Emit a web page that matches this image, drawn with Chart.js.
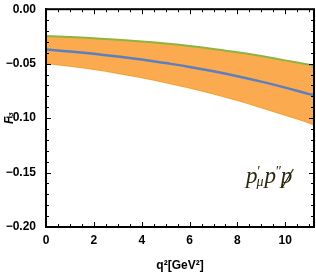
<!DOCTYPE html>
<html>
<head>
<meta charset="utf-8">
<script src="https://cdn.jsdelivr.net/npm/chart.js@4/dist/chart.umd.min.js"></script>
<style>
  html, body { margin: 0; padding: 0; background: #fff; }
  #wrap { width: 316px; height: 273px; }
</style>
</head>
<body>
<div id="wrap"><canvas id="c" width="316" height="273"></canvas></div>
<script>
// --- Data ---
const q2 = [0, 1, 2, 3, 4, 5, 6, 7, 8, 9, 10, 11, 11.2];
const upperBand = [-0.0245, -0.0255, -0.0267, -0.028, -0.0297, -0.0315, -0.0338, -0.0365, -0.0395, -0.043, -0.047, -0.051, -0.052];
const central = [-0.037, -0.0388, -0.041, -0.0435, -0.0462, -0.0495, -0.053, -0.057, -0.0615, -0.0665, -0.072, -0.078, -0.079];
const lowerBand = [-0.0495, -0.052, -0.055, -0.0585, -0.0625, -0.067, -0.072, -0.0775, -0.0835, -0.09, -0.097, -0.104, -0.106];
const xTicks = [0, 2, 4, 6, 8, 10];
const yTicks = [0, -0.05, -0.10, -0.15, -0.20];

const pts = arr => arr.map((v, i) => ({ x: q2[i], y: v }));
const fontTick = { family: 'Liberation Sans, Arial, sans-serif', size: 12, weight: 'bold' };

// inward ticks + frame, Mathematica style
const framePlugin = {
    id: 'frame',
    afterDatasetsDraw(chart) {
        const { ctx, chartArea: a, scales } = chart;
        ctx.save();
        ctx.strokeStyle = '#000';
        ctx.lineWidth = 1;
        ctx.beginPath();
        for (let v = 0; v <= 11.2 + 1e-9; v += 0.5) {
            const x = Math.round(scales.x.getPixelForValue(v)) + 0.5;
            const len = (Math.abs(v % 2) < 1e-6) ? 5 : 3;
            ctx.moveTo(x, a.bottom); ctx.lineTo(x, a.bottom - len);
            ctx.moveTo(x, a.top); ctx.lineTo(x, a.top + len);
        }
        for (let i = 0; i <= 20; i++) {
            const v = -i * 0.01;
            const y = Math.round(scales.y.getPixelForValue(v)) + 0.5;
            const len = (i % 5 === 0) ? 5 : 3;
            ctx.moveTo(a.left, y); ctx.lineTo(a.left + len, y);
            ctx.moveTo(a.right, y); ctx.lineTo(a.right - len, y);
        }
        ctx.stroke();
        ctx.lineWidth = 2;
        ctx.strokeRect(a.left, a.top, a.right - a.left, a.bottom - a.top);

        // in-plot label  p'_mu p'' pslash
        ctx.fillStyle = '#2e2612';
        ctx.textBaseline = 'alphabetic';
        const big = 'italic 23px "Liberation Serif", "DejaVu Serif", serif';
        const small = 'italic 14px "Liberation Serif", "DejaVu Serif", serif';
        let x = 246, y = 183;
        ctx.font = big; ctx.fillText('p', x, y); x += ctx.measureText('p').width;
        ctx.font = small; ctx.fillText('\u2032', x - 1, y - 7);
        ctx.fillText('\u03bc', x - 1, y + 3); x += ctx.measureText('\u03bc').width;
        ctx.font = big; ctx.fillText('p', x, y); x += ctx.measureText('p').width;
        ctx.font = small; ctx.fillText('\u2033', x - 1, y - 7); x += ctx.measureText('\u2033').width - 1;
        ctx.font = big; ctx.fillText('p', x, y);
        const w = ctx.measureText('p').width;
        ctx.lineWidth = 1.2;
        ctx.strokeStyle = '#2e2612';
        ctx.beginPath();
        ctx.moveTo(x + 1, y + 5); ctx.lineTo(x + w + 1, y - 14);
        ctx.stroke();
        ctx.restore();
    }
};

new Chart(document.getElementById('c'), {
    type: 'line',
    data: {
        datasets: [
            {
                data: pts(upperBand),
                borderColor: '#8fb43c',
                borderWidth: 2,
                backgroundColor: '#fcaa50',
                fill: '+1',
                pointRadius: 0,
                tension: 0.4,
                order: 2
            },
            {
                data: pts(lowerBand),
                borderColor: '#e9a43a',
                borderWidth: 2,
                pointRadius: 0,
                fill: false,
                tension: 0.4,
                order: 3
            },
            {
                data: pts(central),
                borderColor: '#5b80c0',
                borderWidth: 2.5,
                pointRadius: 0,
                fill: false,
                tension: 0.4,
                order: 1
            }
        ]
    },
    options: {
        responsive: false,
        animation: false,
        layout: { padding: { top: 5, right: 2, left: 0, bottom: 0 } },
        plugins: { legend: { display: false }, tooltip: { enabled: false } },
        scales: {
            x: {
                type: 'linear',
                min: 0,
                max: 11.2,
                afterBuildTicks: s => { s.ticks = xTicks.map(v => ({ value: v })); },
                afterFit: s => { s.height = 46; },
                grid: { display: false },
                border: { display: true, color: '#000', width: 2 },
                ticks: { color: '#000', font: fontTick, padding: -2, maxRotation: 0, callback: v => String(v) },
                title: {
                    display: true,
                    text: 'q\u00b2[GeV\u00b2]',
                    color: '#000',
                    font: { family: 'Liberation Sans, Arial, sans-serif', size: 12, weight: 'bold' },
                    padding: { top: 8, bottom: 0 }
                }
            },
            y: {
                min: -0.2,
                max: 0,
                afterBuildTicks: s => { s.ticks = yTicks.map(v => ({ value: v })); },
                afterFit: s => { s.width = 46; },
                grid: { display: false },
                border: { display: true, color: '#000', width: 2 },
                ticks: {
                    color: '#000', font: fontTick, padding: 2,
                    callback: v => (Math.abs(v) < 1e-9 ? '0.00' : v.toFixed(2).replace('-', '\u2212'))
                },
                title: {
                    display: true,
                    text: 'F\u2083',
                    color: '#000',
                    font: { family: 'Liberation Sans, Arial, sans-serif', size: 12, weight: 'bold', style: 'italic' },
                    padding: { top: 2, bottom: 0 }
                }
            }
        }
    },
    plugins: [framePlugin]
});
</script>
</body>
</html>
